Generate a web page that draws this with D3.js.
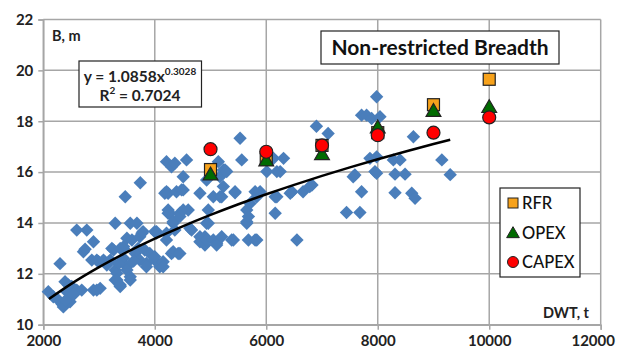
<!DOCTYPE html>
<html><head><meta charset="utf-8">
<script src="https://cdn.jsdelivr.net/npm/d3@7"></script>
<style>body{margin:0;background:#fff}svg{display:block}</style>
</head><body>
<svg id="c" width="618" height="351"></svg>
<script>
const xTicks = [2000,4000,6000,8000,10000,12000];
const yTicks = [10,12,14,16,18,20,22];
const scatterX = [2090,2180,2270,2300,2340,2360,2390,2450,2480,2480,2510,2600,2600,2690,2720,2750,2780,2870,2900,2900,2960,2990,3020,2960,2420,2400,2550,
3080,3140,3200,3230,3260,3290,3290,3290,3320,3320,3380,3380,3440,3440,3440,3470,3500,3500,3500,3560,3560,3560,3590,3650,3680,3700,3730,3740,3730,3770,3790,3820,3850,3850,3910,3380,3620,3350,
4000,4000,4000,4030,4030,4090,4150,4150,4180,4210,4210,4210,4210,4240,4240,4240,4270,4300,4300,4330,4330,4330,4360,4360,4390,4420,4450,4450,4450,4480,4510,4510,4510,4570,4600,4630,4660,4810,4810,4810,4900,4900,4930,4930,4930,4960,4960,
5050,5050,5110,5110,5140,5170,5170,5200,5200,5230,5230,5260,5290,5380,5410,5440,5440,5530,5560,5650,5650,5650,5680,5680,5710,5800,5800,5830,5830,5890,
6010,6130,6160,6160,6190,6190,6250,6310,6430,6460,6550,6660,6780,6820,6900,7110,
7440,7560,7590,7680,7710,7710,7800,7860,7890,7950,7980,7980,7980,8040,8280,8310,8310,8400,8490,8610,8640,8670,9150,9300];
const scatterY = [11.3,11.1,10.97,12.4,10.8,10.7,11.69,11.56,10.9,11.1,11.5,11.36,13.72,11.36,12.87,12.97,13.72,12.54,13.26,11.36,12.54,12.48,11.43,11.36,11.3,10.95,11.2,
12.54,12.35,12.54,13.0,12.94,13.99,12.15,11.76,12.02,11.76,11.5,11.56,13.07,12.61,13.0,15.03,12.28,12.15,13.4,13.99,11.89,11.76,13.33,12.8,13.99,13.0,12.54,15.58,13.46,13.6,13.66,12.94,12.41,12.28,12.8,13.0,12.5,12.4,
12.54,12.67,13.66,13.6,13.66,12.28,12.48,12.28,15.17,16.41,15.23,13.33,13.6,15.17,14.51,14.38,14.38,16.21,12.8,13.99,14.05,12.87,16.35,13.72,15.23,12.8,14.38,14.25,12.8,15.3,15.82,14.51,15.3,16.48,14.51,13.79,13.72,15.17,13.46,13.26,13.46,13.13,15.69,13.99,13.33,14.51,13.99,
15.03,13.33,13.2,13.13,16.41,15.03,15.82,13.46,15.03,15.43,16.08,16.08,16.02,13.33,13.33,15.23,15.19,17.33,16.48,14.51,13.99,14.05,13.33,14.25,14.77,13.33,15.23,15.03,13.33,15.23,
16.02,16.54,15.03,14.38,16.02,15.03,16.02,16.54,15.17,15.23,13.33,15.23,15.43,15.49,17.8,17.52,
14.41,15.82,15.89,14.41,15.23,18.24,18.24,16.54,18.11,16.02,18.96,16.6,15.95,18.18,16.48,15.19,15.92,16.48,15.92,15.17,17.39,14.97,16.48,15.9];
const designDWT = [5000,6000,7000,8000,9000,10000];
const rfr   = [16.1,16.5,17.05,17.55,18.65,19.65];
const opex  = [15.9,16.45,16.7,17.75,18.4,18.55];
const capex = [16.9,16.8,17.05,17.45,17.55,18.15];
const trendA = 1.0858, trendB = 0.3028;
const trendX = [2100,2500,3000,3500,4000,4500,5000,5500,6000,6500,7000,7500,8000,8500,9000,9300];

const font = "Lato, 'Open Sans', sans-serif";
const svg = d3.select("#c");
const x = d3.scaleLinear().domain([2000,12000]).range([43.3,600.7]);
const y = d3.scaleLinear().domain([10,22]).range([324.7,19.5]);
const grid = "#a6a6a6";

// gridlines
svg.append("g").selectAll("line").data(xTicks).join("line")
  .attr("x1",d=>x(d)).attr("x2",d=>x(d)).attr("y1",y(10)).attr("y2",y(22))
  .attr("stroke",grid).attr("stroke-width",1.5);
svg.append("g").selectAll("line").data(yTicks).join("line")
  .attr("x1",x(2000)).attr("x2",x(12000)).attr("y1",d=>y(d)).attr("y2",d=>y(d))
  .attr("stroke",grid).attr("stroke-width",1.5);

// axes
const ax = svg.append("g").attr("transform",`translate(0,${y(10)})`)
  .call(d3.axisBottom(x).tickValues(xTicks).tickSize(5).tickPadding(6).tickFormat(d3.format("d")));
const ay = svg.append("g").attr("transform",`translate(${x(2000)},0)`)
  .call(d3.axisLeft(y).tickValues(yTicks).tickSize(5).tickPadding(5).tickFormat(d3.format("d")));
[ax,ay].forEach(a=>{
  a.select(".domain").attr("stroke",grid).attr("stroke-width",1.5);
  a.selectAll(".tick line").attr("stroke",grid).attr("stroke-width",1.5);
  a.selectAll("text").attr("font-family",font).attr("font-weight","bold").attr("font-size",15).attr("fill","#222");
});
ax.selectAll(".tick text").attr("dx",(d,i)=>i===xTicks.length-1?-8:0);

// scatter diamonds
const scat = scatterX.map((v,i)=>[v,scatterY[i]]);
svg.append("g").selectAll("path").data(scat).join("path")
  .attr("d",d=>{const cx=x(d[0]),cy=y(d[1]),r=6.7;return `M${cx},${cy-r}L${cx+r},${cy}L${cx},${cy+r}L${cx-r},${cy}Z`;})
  .attr("fill","#4a7ebb");

// trend line
svg.append("path").datum(trendX.map(v=>[v,trendA*Math.pow(v,trendB)]))
  .attr("d",d3.line().x(d=>x(d[0])).y(d=>y(d[1])).curve(d3.curveMonotoneX))
  .attr("fill","none").attr("stroke","#000").attr("stroke-width",2.5);

// design series
const rfrD = designDWT.map((v,i)=>[v,rfr[i]]);
const opD = designDWT.map((v,i)=>[v,opex[i]]);
const caD = designDWT.map((v,i)=>[v,capex[i]]);
svg.append("g").selectAll("rect").data(rfrD).join("rect")
  .attr("x",d=>x(d[0])-6).attr("y",d=>y(d[1])-6).attr("width",12).attr("height",12)
  .attr("fill","#f7a21b").attr("stroke","#222").attr("stroke-width",1.2);
const tri = d3.symbol().type(d3.symbolTriangle).size(95);
svg.append("g").selectAll("path").data(opD).join("path")
  .attr("transform",d=>`translate(${x(d[0])},${y(d[1])+1})`).attr("d",tri)
  .attr("fill","#006b00").attr("stroke","#222").attr("stroke-width",1.2);
svg.append("g").selectAll("circle").data(caD).join("circle")
  .attr("cx",d=>x(d[0])).attr("cy",d=>y(d[1])).attr("r",6.5)
  .attr("fill","#ff0000").attr("stroke","#222").attr("stroke-width",1.2);

// text labels
svg.append("text").attr("x",52).attr("y",41).text("B, m")
  .attr("font-family",font).attr("font-weight","bold").attr("font-size",14.5).attr("fill","#222");
svg.append("text").attr("x",589).attr("y",318).attr("text-anchor","end").text("DWT, t")
  .attr("font-family",font).attr("font-weight","bold").attr("font-size",14.5).attr("fill","#222");

// equation box
svg.append("rect").attr("x",79).attr("y",61).attr("width",122.5).attr("height",46)
  .attr("fill","#fff").attr("stroke","#222").attr("stroke-width",1.2);
const eq = svg.append("text").attr("x",140).attr("y",82).attr("text-anchor","middle")
  .attr("font-family",font).attr("font-weight","bold").attr("font-size",15.5).attr("fill","#222");
eq.append("tspan").text("y = 1.0858x");
eq.append("tspan").attr("dy",-7).attr("font-size",10).text("0.3028");
const r2 = svg.append("text").attr("x",140).attr("y",101).attr("text-anchor","middle")
  .attr("font-family",font).attr("font-weight","bold").attr("font-size",15.5).attr("fill","#222");
r2.append("tspan").text("R");
r2.append("tspan").attr("dy",-7).attr("font-size",10).text("2");
r2.append("tspan").attr("dy",7).text(" = 0.7024");

// title box
svg.append("rect").attr("x",321).attr("y",31).attr("width",238).attr("height",33)
  .attr("fill","#fff").attr("stroke","#222").attr("stroke-width",1.2);
svg.append("text").attr("x",440).attr("y",55).attr("text-anchor","middle").text("Non-restricted Breadth")
  .attr("font-family",font).attr("font-weight","bold").attr("font-size",21).attr("fill","#111");

// legend
svg.append("rect").attr("x",500).attr("y",188).attr("width",80).attr("height",89)
  .attr("fill","#fff").attr("stroke","#222").attr("stroke-width",1.2);
const lg = svg.append("g");
lg.append("rect").attr("x",508).attr("y",198).attr("width",10).attr("height",10)
  .attr("fill","#f7a21b").attr("stroke","#222").attr("stroke-width",1);
lg.append("path").attr("transform","translate(513,234)").attr("d",d3.symbol().type(d3.symbolTriangle).size(70))
  .attr("fill","#006b00").attr("stroke","#222").attr("stroke-width",1);
lg.append("circle").attr("cx",513).attr("cy",262).attr("r",5.5)
  .attr("fill","#ff0000").attr("stroke","#222").attr("stroke-width",1);
[["RFR",209],["OPEX",238.5],["CAPEX",267.5]].forEach(([t,yy])=>{
  lg.append("text").attr("x",522).attr("y",yy).text(t)
    .attr("font-family",font).attr("font-size",16.5).attr("font-weight",500).attr("fill","#111");
});
</script>
</body></html>
